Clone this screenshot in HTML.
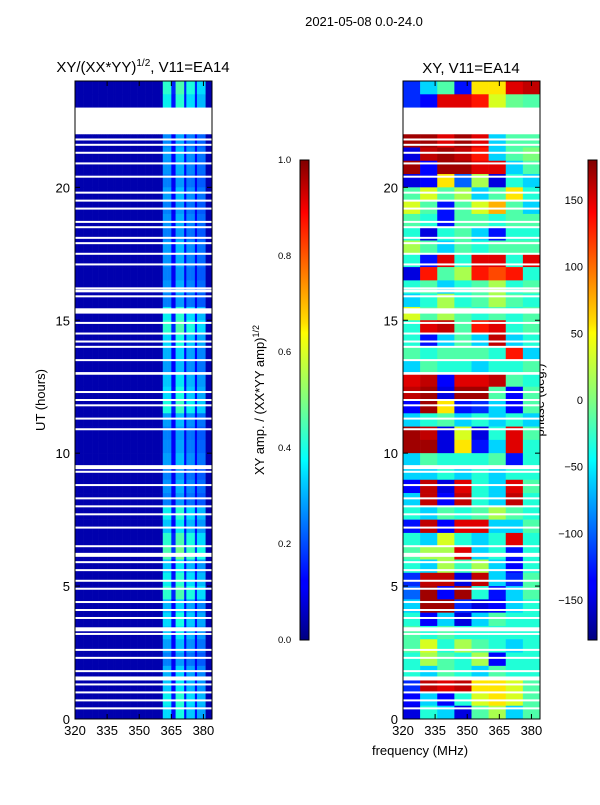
<!DOCTYPE html>
<html><head><meta charset="utf-8"><style>
body{margin:0;background:#fff}
svg text{font-family:"Liberation Sans",sans-serif;fill:#000}
</style></head><body>
<svg id="fig" xmlns="http://www.w3.org/2000/svg" width="600" height="800" viewBox="0 0 600 800">
<defs>
<linearGradient id="jet" x1="0" y1="1" x2="0" y2="0">
<stop offset="0" stop-color="#000080"/><stop offset="0.11" stop-color="#0000ff"/><stop offset="0.125" stop-color="#0000ff"/>
<stop offset="0.34" stop-color="#00d8ff"/><stop offset="0.375" stop-color="#00ffff"/><stop offset="0.5" stop-color="#80ff80"/>
<stop offset="0.64" stop-color="#ffff00"/><stop offset="0.66" stop-color="#ffe000"/><stop offset="0.89" stop-color="#ff0000"/><stop offset="1" stop-color="#800000"/>
</linearGradient>
</defs>
<text x="364" y="26" font-size="13" text-anchor="middle">2021-05-08 0.0-24.0</text>
<text x="143" y="72" font-size="15" text-anchor="middle">XY/(XX*YY)<tspan font-size="10" dy="-6">1/2</tspan><tspan dy="6">, V11=EA14</tspan></text>
<text x="471" y="73" font-size="15" text-anchor="middle">XY, V11=EA14</text>
<text transform="translate(45,400) rotate(-90)" font-size="13" text-anchor="middle">UT (hours)</text>
<text transform="translate(264,400) rotate(-90)" font-size="13" text-anchor="middle">XY amp. / (XX*YY amp)<tspan font-size="9" dy="-5">1/2</tspan></text>
<text transform="translate(544,400) rotate(-90)" font-size="13" text-anchor="middle">phase (deg.)</text>
<text x="420" y="755" font-size="13" text-anchor="middle">frequency (MHz)</text>
<g id="left"></g>
<g id="right"></g>
<g id="axes"></g>
<rect x="300" y="160" width="9" height="480" fill="url(#jet)" stroke="#000" stroke-width="1"/>
<rect x="588" y="160" width="9" height="480" fill="url(#jet)" stroke="#000" stroke-width="1"/>
</svg>
<script>
// ---- data ----
const xTicks=[320,335,350,365,380];
const yTicks=[0,5,10,15,20];
const ampTicks=[0.0,0.2,0.4,0.6,0.8,1.0];
const phaseTicks=[-150,-100,-50,0,50,100,150];
const gapRanges=[[22.0,23.0],[15.25,15.45],[9.4,9.55],[6.1,6.25],[3.3,3.45],[1.45,1.6],[16.05,16.15],[12.95,13.05]];
const thinGaps=[21.3,20.9,20.4,19.8,19.2,18.7,18.5,17.9,17.5,17.1,16.2,15.9,14.9,14.5,14.0,13.5,12.3,11.8,11.3,10.9,9.3,8.8,8.3,7.7,7.2,6.5,5.9,5.6,4.9,4.4,3.8,3.2,2.6,1.8,1.3,0.7,0.4,21.8,21.6,19.5,18.1,14.2,12.0,8.0,5.2,4.1,2.3,1.0];
// amplitude row level, top (24h) to bottom, 0.5h rows
const ampRows=[0.4,0.36,0,0,0.26,0.28,0.27,0.25,0.28,0.25,0.27,0.25,0.28,0.27,0.25,0.27,0.25,0.36,0.4,0.34,0.3,0.28,0.32,0.34,
0.38,0.28,0.25,0.26,0.28,0.25,0.27,0.25,0.36,0.32,0.4,0.44,0.32,0.36,0.4,0.3,0.34,0.32,0.28,0.25,0.3,0.32,0.36,0.34];
// frequency profile (1 MHz bins from 320)
const ampProfile=[];
for(let f=320;f<384;f++){let p=0.1;
 if(f>=361&&f<=364)p=1.0;else if(f==365||f==366)p=0.4;else if(f>=367&&f<=370)p=1.1;else if(f==371)p=0.4;
 else if(f>=372&&f<=375)p=0.95;else if(f==376)p=0.4;else if(f>=377&&f<=380)p=0.85;ampProfile.push(p);}
const phaseCols=[320,328,336,344,352,360,368,376];
const phaseRows=[
[-120,-60,-20,-130,60,60,150,160],[-120,-140,150,150,140,40,-10,-20],null,null,
[170,170,150,170,150,-60,-20,-20],[-150,160,170,160,140,-60,-20,0],[170,-140,170,170,150,150,-60,-20],[-150,-140,60,-100,20,-150,-40,-60],
[-20,40,-20,20,-60,-20,60,-40],[40,-20,-130,-20,40,80,-20,-60],[-20,-40,-130,-20,-20,-40,-20,-20],[-40,-150,-40,-20,-60,-130,-40,-40],
[20,-20,-60,-20,-40,-20,-20,-20],[-40,-130,150,-40,150,150,-40,150],[-150,140,-20,20,140,120,140,-40],[-40,-20,-60,-40,-20,20,-40,-20],
[-60,-40,20,-40,-20,20,-20,-40],[40,-20,20,-20,-40,-20,-40,-20],[-40,150,160,-20,140,150,-40,-20],[-40,-130,-60,-20,-60,160,-60,-40],
[-20,-40,-20,-20,-20,-40,140,-60],[-60,-20,-40,-40,-60,-40,-40,-20],[150,160,-140,150,150,160,-20,-40],[160,170,-150,170,170,-20,-140,-20],
[-140,170,60,-130,-120,-60,-140,-20],[-60,-40,-20,-60,-40,-60,-40,-60],[170,160,-150,40,-150,-40,150,-20],[170,170,-150,60,-130,-60,150,-40],
[-60,-20,-40,-40,-40,-20,-130,-40],[-60,-60,-40,-60,-40,-60,-40,-40],[-140,160,-150,150,-40,-60,150,-20],[-60,160,-140,160,-40,-60,160,-40],
[-40,-60,-20,-40,-20,20,-20,-40],[-130,160,-140,150,150,-60,-60,-20],[-40,-60,40,-40,-60,-40,150,-40],[-20,20,20,150,-60,-40,-130,-40],
[-40,-60,20,-30,20,-60,-140,-40],[-120,160,160,-150,160,-60,-120,-20],[-100,170,-140,170,-40,-130,-60,-20],[-60,170,170,-120,-150,-140,-60,-40],
[-40,-140,-60,-150,-60,-20,-40,-40],[-20,-40,-20,-40,-40,-40,-40,-40],[-20,40,-40,20,-20,-40,-60,-40],[-40,20,-20,-40,20,-140,-40,-40],
[-40,-60,-20,-40,-60,-20,-40,-40],[-120,160,150,160,60,60,40,-20],[-140,-60,-140,-40,40,60,40,-20],[-150,-40,-60,-150,-20,20,-60,-20]];

// ---- helpers ----
const NS="http://www.w3.org/2000/svg";
const Y0=719,Y1=81,FMIN=320,FMAX=384;
const yScale=h=>Y0-(h/24)*(Y0-Y1);
const xL=f=>75+(f-FMIN)/(FMAX-FMIN)*137;
const xR=f=>403+(f-FMIN)/(FMAX-FMIN)*137;
function interp(pts,v){for(let i=1;i<pts.length;i++){if(v<=pts[i][0]){const a=pts[i-1],b=pts[i];return a[1]+(b[1]-a[1])*(v-a[0])/(b[0]-a[0]);}}return pts[pts.length-1][1];}
function jet(v){v=Math.max(0,Math.min(1,v));
 const r=interp([[0,0],[0.35,0],[0.66,1],[0.89,1],[1,0.5]],v),g=interp([[0,0],[0.125,0],[0.375,1],[0.64,1],[0.91,0],[1,0]],v),b=interp([[0,0.5],[0.11,1],[0.34,1],[0.65,0],[1,0]],v);
 return `rgb(${Math.round(r*255)},${Math.round(g*255)},${Math.round(b*255)})`;}
function mk(parent,tag,attrs){const e=document.createElementNS(NS,tag);for(const k in attrs)e.setAttribute(k,attrs[k]);parent.appendChild(e);return e;}
const L=document.getElementById('left'),R=document.getElementById('right'),A=document.getElementById('axes');

// amplitude cells
ampRows.forEach((s,ri)=>{const hTop=24-ri*0.5;
 if(s===0)return;
 ampProfile.forEach((p,ci)=>{const f=FMIN+ci;const v=p<0.2?0.04:Math.min(1,p*s);
  const c=mk(L,'rect',{x:xL(f),y:yScale(hTop),width:xL(f+1)-xL(f)+0.3,height:yScale(hTop-0.5)-yScale(hTop)+0.3,fill:jet(v)});
  
  });});
// phase cells
phaseRows.forEach((row,ri)=>{const hTop=24-ri*0.5;if(!row)return;
 row.forEach((ph,ci)=>{const f0=phaseCols[ci],f1=ci+1<phaseCols.length?phaseCols[ci+1]:FMAX;
  const c=mk(R,'rect',{x:xR(f0),y:yScale(hTop),width:xR(f1)-xR(f0)+0.3,height:yScale(hTop-0.5)-yScale(hTop)+0.3,fill:jet((ph+180)/360)});
  
  });});
// gaps
[L,R].forEach((g,gi)=>{const x0=gi?403:75;
 gapRanges.forEach(r=>{const e=mk(g,'rect',{x:x0,y:yScale(r[1]),width:137,height:yScale(r[0])-yScale(r[1]),fill:'#fff'});
  
  });
 thinGaps.forEach(h=>{const e=mk(g,'rect',{x:x0,y:yScale(h)-1,width:137,height:2,fill:'#fff'});
  
  });});
// axes frames & ticks
[75,403].forEach((x0,pi)=>{
 const fr=mk(A,'rect',{x:x0,y:Y1,width:137,height:Y0-Y1,fill:'none',stroke:'#000','stroke-width':1});
 
 
 const xs=pi?xR:xL;
 xTicks.forEach(t=>{const x=xs(t);mk(A,'line',{x1:x,y1:Y0,x2:x,y2:Y0-5,stroke:'#000'});mk(A,'line',{x1:x,y1:Y1,x2:x,y2:Y1+5,stroke:'#000'});
  const tx=mk(A,'text',{x:x,y:Y0+16,'font-size':13,'text-anchor':'middle'});tx.textContent=t;
  
  });
 yTicks.forEach(t=>{const y=yScale(t);mk(A,'line',{x1:x0,y1:y,x2:x0+5,y2:y,stroke:'#000'});mk(A,'line',{x1:x0+137,y1:y,x2:x0+132,y2:y,stroke:'#000'});
  const tx=mk(A,'text',{x:x0-5,y:y+5,'font-size':13,'text-anchor':'end'});tx.textContent=t;
  
  });});
// colorbar ticks
ampTicks.forEach(t=>{const y=640-t*480;mk(A,'line',{x1:305,y1:y,x2:309,y2:y,stroke:'#000'});
 const tx=mk(A,'text',{x:278,y:y+3,'font-size':9.5});tx.textContent=t.toFixed(1);
 
 });
phaseTicks.forEach(t=>{const y=160+(180-t)/360*480;mk(A,'line',{x1:593,y1:y,x2:597,y2:y,stroke:'#000'});
 const tx=mk(A,'text',{x:583,y:y+4,'font-size':11,'text-anchor':'end'});tx.textContent=t===0?'0':(t<0?'\u2212'+(-t):t);
 
 });
</script>
</body></html>
